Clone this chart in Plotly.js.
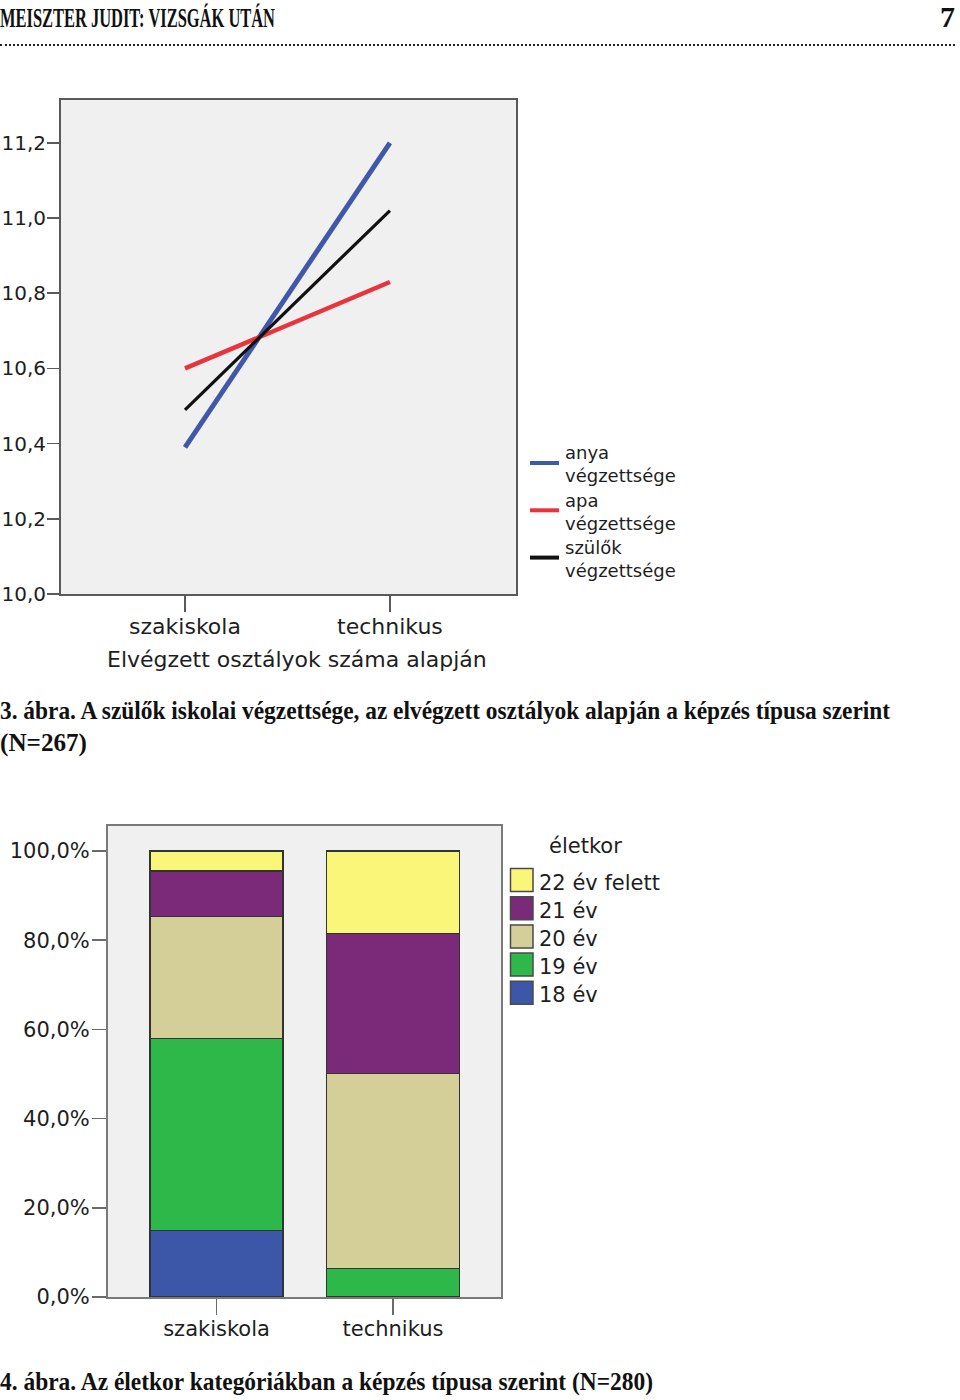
<!DOCTYPE html>
<html>
<head>
<meta charset="utf-8">
<script src="https://cdn.plot.ly/plotly-3.0.1.min.js"></script>
<style>
  html, body { margin:0; padding:0; background:#fff; }
  #wrap { position:relative; width:960px; height:1400px; overflow:hidden; }
  #plot { position:absolute; left:0; top:0; width:960px; height:1400px; }
  .txt { position:absolute; white-space:nowrap; font-family:"Liberation Serif", "DejaVu Serif", serif;
         font-weight:bold; color:#111; line-height:1; transform-origin:0 0; z-index:5; }
  #dots { position:absolute; left:0; top:44px; width:955px; height:0; border-top:2px dotted #222; z-index:5; }
</style>
</head>
<body>
<div id="wrap">
  <div id="plot"></div>
  <div class="txt" id="hdr" data-w="275" style="left:0;top:5px;font-size:27px;">MEISZTER JUDIT: VIZSGÁK UTÁN</div>
  <div class="txt" id="pg" data-w="15" style="left:940px;top:2px;font-size:30px;">7</div>
  <div id="dots"></div>
  <div class="txt" id="cap3a" data-w="890" style="left:0;top:698px;font-size:26px;">3. ábra. A szülők iskolai végzettsége, az elvégzett osztályok alapján a képzés típusa szerint</div>
  <div class="txt" id="cap3b" data-w="87" style="left:0;top:730px;font-size:26px;">(N=267)</div>
  <div class="txt" id="cap4" data-w="653" style="left:0;top:1369px;font-size:26px;">4. ábra. Az életkor kategóriákban a képzés típusa szerint (N=280)</div>
</div>
<script>
// ---------- Chart 1 data ----------
const lineCategories = ['szakiskola', 'technikus'];
const anyaValues   = [10.39, 11.20];
const apaValues    = [10.60, 10.83];
const szulokValues = [10.49, 11.02];
const lineNames = [['anya', 'végzettsége'], ['apa', 'végzettsége'], ['szülők', 'végzettsége']];
const lineYTicks = [10.0, 10.2, 10.4, 10.6, 10.8, 11.0, 11.2];
const lineYTickLabels = ['10,0', '10,2', '10,4', '10,6', '10,8', '11,0', '11,2'];
const lineXTitle = 'Elvégzett osztályok száma alapján';

// ---------- Chart 2 data ----------
const barCategories = ['szakiskola', 'technikus'];
const ageGroups = ['18 év', '19 év', '20 év', '21 év', '22 év felett'];
const age18 = [15.0, 0.0];
const age19 = [43.0, 6.4];
const age20 = [27.3, 43.8];
const age21 = [10.2, 31.3];
const age22 = [4.5, 18.5];
const pctTicks = [0, 20, 40, 60, 80, 100];
const pctTickLabels = ['0,0%', '20,0%', '40,0%', '60,0%', '80,0%', '100,0%'];
const legendTitle = 'életkor';

// ---------- styles ----------
const lineColors = ['#3f58a8', '#e8353d', '#111111'];
const lineWidths = [5, 4.5, 3.2];
const ageColors = ['#3d57a8', '#2eb84a', '#d4cf98', '#7b2979', '#f9f67a'];
const W = 960, H = 1400;
const px = v => v / W;
const py = v => (H - v) / H;
const SANS = 'DejaVu Sans, Verdana, sans-serif';
const f = (size) => ({ family: SANS, color: '#1e1e1e', size: size });

const traces = [];
const lineSeries = [anyaValues, apaValues, szulokValues];
lineSeries.forEach((vals, i) => {
  traces.push({
    type: 'scatter', mode: 'lines', x: lineCategories, y: vals, name: lineNames[i].join(' '),
    xaxis: 'x', yaxis: 'y', line: { color: lineColors[i], width: lineWidths[i] }, showlegend: false
  });
});

const ageSeries = [age18, age19, age20, age21, age22];
ageSeries.forEach((vals, i) => {
  traces.push({
    type: 'bar', x: barCategories, y: vals, name: ageGroups[i], xaxis: 'x2', yaxis: 'y2',
    marker: { color: ageColors[i], line: { color: '#333', width: 1.2 } }, showlegend: false
  });
});

const shapes = [];
const annotations = [];

// legend of chart 1 (line keys + two-line labels)
lineNames.forEach((nm, i) => {
  const ly = 463 + 47.3 * i;
  shapes.push({ type: 'line', xref: 'paper', yref: 'paper', x0: px(530), x1: px(559), y0: py(ly), y1: py(ly),
    line: { color: lineColors[i], width: 4 } });
  annotations.push({ xref: 'paper', yref: 'paper', x: px(564), y: py(ly + 1.5), xanchor: 'left', yanchor: 'middle',
    align: 'left', text: nm.join('<br>'), showarrow: false, font: f(18), borderpad: 0 });
});

// x-axis title of chart 1
annotations.push({ xref: 'paper', yref: 'paper', x: px(297), y: py(659), xanchor: 'center', yanchor: 'middle',
  text: lineXTitle, showarrow: false, font: f(22) });

// legend of chart 2
const order = [4, 3, 2, 1, 0];
order.forEach((idx, k) => {
  const cy = 880 + 28.2 * k;
  shapes.push({ type: 'rect', xref: 'paper', yref: 'paper', x0: px(510.5), x1: px(533), y0: py(cy + 11.5), y1: py(cy - 11.5),
    fillcolor: ageColors[idx], line: { color: '#4a4a4a', width: 1.5 } });
  annotations.push({ xref: 'paper', yref: 'paper', x: px(537), y: py(cy + 2.5), xanchor: 'left', yanchor: 'middle',
    text: ageGroups[idx], showarrow: false, font: f(21) });
});
annotations.push({ xref: 'paper', yref: 'paper', x: px(585), y: py(846), xanchor: 'center', yanchor: 'middle',
  text: legendTitle, showarrow: false, font: f(21) });

const axisCommon = { showgrid: false, zeroline: false, ticks: 'outside', tickwidth: 1.5,
  showline: true, mirror: true, fixedrange: true };

const layout = {
  width: W, height: H, margin: { l: 0, r: 0, t: 0, b: 0 },
  paper_bgcolor: '#ffffff', plot_bgcolor: '#f0f0f0',
  font: f(20), showlegend: false,
  barmode: 'stack', bargap: 0.247,
  xaxis: Object.assign({}, axisCommon, {
    domain: [px(61), px(516)], anchor: 'y', type: 'category', range: [-0.605, 1.615],
    linecolor: '#5a5a5a', linewidth: 2, tickcolor: '#5a5a5a', ticklen: 16, ticklabelstandoff: -4,
    tickfont: f(22)
  }),
  yaxis: Object.assign({}, axisCommon, {
    domain: [py(594), py(100)], anchor: 'x', range: [10.0, 11.314],
    tickmode: 'array', tickvals: lineYTicks, ticktext: lineYTickLabels,
    linecolor: '#5a5a5a', linewidth: 2, tickcolor: '#5a5a5a', ticklen: 12, ticklabelstandoff: -3,
    tickfont: f(20)
  }),
  xaxis2: Object.assign({}, axisCommon, {
    domain: [px(108), px(501)], anchor: 'y2', type: 'category', range: [-0.615, 1.612],
    linecolor: '#7a7a7a', linewidth: 2, tickcolor: '#6a6a6a', ticklen: 16, ticklabelstandoff: -4,
    tickfont: f(21)
  }),
  yaxis2: Object.assign({}, axisCommon, {
    domain: [py(1297), py(826)], anchor: 'x2', range: [0, 105.6],
    tickmode: 'array', tickvals: pctTicks, ticktext: pctTickLabels,
    linecolor: '#7a7a7a', linewidth: 2, tickcolor: '#6a6a6a', ticklen: 14, ticklabelstandoff: -2,
    tickfont: f(21)
  }),
  shapes: shapes,
  annotations: annotations
};

Plotly.newPlot('plot', traces, layout, { staticPlot: true, displayModeBar: false }).then(() => {
  document.querySelectorAll('.txt').forEach(el => {
    const target = parseFloat(el.getAttribute('data-w'));
    const w = el.getBoundingClientRect().width;
    if (w > 0) el.style.transform = 'scaleX(' + (target / w) + ')';
  });
});
</script>
</body>
</html>
